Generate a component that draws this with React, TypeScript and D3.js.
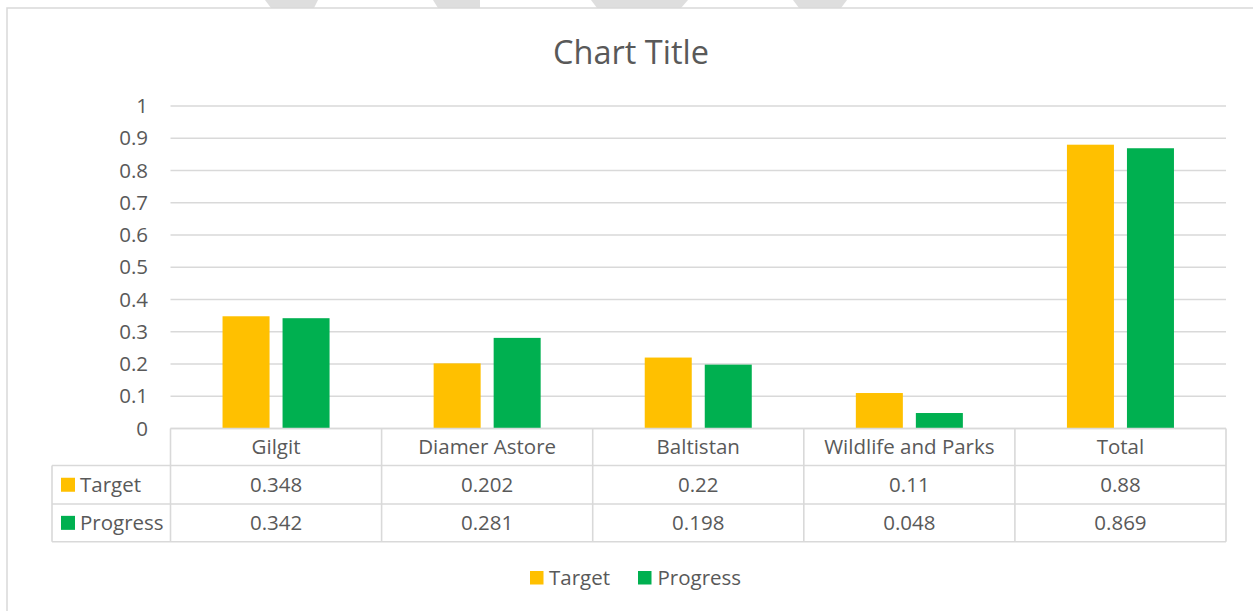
import * as d3 from "d3";

const categories = ["Gilgit", "Diamer Astore", "Baltistan", "Wildlife and Parks", "Total"];
const seriesNames = ["Target", "Progress"];
const targetValues = [0.348, 0.202, 0.22, 0.11, 0.88];
const progressValues = [0.342, 0.281, 0.198, 0.048, 0.869];
const targetLabels = ["0.348", "0.202", "0.22", "0.11", "0.88"];
const progressLabels = ["0.342", "0.281", "0.198", "0.048", "0.869"];
const yTicks = [0, 0.1, 0.2, 0.3, 0.4, 0.5, 0.6, 0.7, 0.8, 0.9, 1];
const yTickLabels = ["0", "0.1", "0.2", "0.3", "0.4", "0.5", "0.6", "0.7", "0.8", "0.9", "1"];

const colors = ["#FFC000", "#00B050"];
const textColor = "#595959";
const lineColor = "#d9d9d9";
const font = "'Open Sans', Calibri, sans-serif";
const fs = 20.5;

export default function App() {
  const width = 1253;
  const height = 611;

  const plot = { left: 170.5, right: 1226, top: 106, bottom: 428.5 };
  const table = { left: 52, row1: 465.5, row2: 504, row3: 541.7 };

  // y scale -> value to pixels
  const y = d3.scaleLinear().domain([0, 1]).range([plot.bottom, plot.top]);

  // category cells (full width, used for the table)
  const cells = d3.scaleBand().domain(categories).range([plot.left, plot.right]);

  // bar groups inside each category
  const x0 = d3
    .scaleBand()
    .domain(categories)
    .range([plot.left, plot.right])
    .paddingInner(0.493)
    .paddingOuter(0.2465);

  const x1 = d3
    .scaleBand()
    .domain(seriesNames)
    .range([0, x0.bandwidth()])
    .paddingInner(0.2167);

  const series = [targetValues, progressValues];
  const rowLabels = [targetLabels, progressLabels];
  const rowMid = [(table.row1 + table.row2) / 2, (table.row2 + table.row3) / 2];

  // watermark fragments peeking above the border
  const watermark = [
    [265, 318, 271, 314],
    [433, 480, 438, 480],
    [591, 688, 597, 681],
    [793, 847, 799, 841],
  ];

  return (
    <svg
      width={width}
      height={height}
      style={{ position: "absolute", left: 0, top: 0, background: "#fff" }}
    >
      {watermark.map(([a, b, c, d], i) => (
        <polygon key={i} points={`${a},0 ${b},0 ${d},8 ${c},8`} fill="#dedede" />
      ))}

      {/* chart border */}
      <rect x={7} y={8} width={1260} height={640} fill="#fff" stroke={lineColor} strokeWidth={1.5} />

      {/* title */}
      <text x={631} y={64} textAnchor="middle" fontSize={32.5} fill={textColor} fontFamily={font}>
        Chart Title
      </text>

      {/* gridlines + tick labels */}
      {yTicks.map((t, i) => (
        <g key={i}>
          <line x1={plot.left} x2={plot.right} y1={y(t)} y2={y(t)} stroke={lineColor} strokeWidth={1.3} />
          <text
            x={148}
            y={y(t)}
            dy="0.35em"
            textAnchor="end"
            fontSize={fs}
            fill={textColor}
            fontFamily={font}
          >
            {yTickLabels[i]}
          </text>
        </g>
      ))}

      {/* bars */}
      {categories.map((c, ci) => (
        <g key={c} transform={`translate(${x0(c)},0)`}>
          {seriesNames.map((s, si) => (
            <rect
              key={s}
              x={x1(s)}
              y={y(series[si][ci])}
              width={x1.bandwidth()}
              height={y(0) - y(series[si][ci])}
              fill={colors[si]}
            />
          ))}
        </g>
      ))}

      {/* data table lines */}
      <g stroke={lineColor} strokeWidth={1.6} fill="none">
        <line x1={plot.left} x2={plot.right} y1={plot.bottom} y2={plot.bottom} />
        {[table.row1, table.row2, table.row3].map((ry, i) => (
          <line key={i} x1={table.left} x2={plot.right} y1={ry} y2={ry} />
        ))}
        <line x1={table.left} x2={table.left} y1={table.row1} y2={table.row3} />
        {categories.map((c) => (
          <line key={c} x1={cells(c)} x2={cells(c)} y1={plot.bottom} y2={table.row3} />
        ))}
        <line x1={plot.right} x2={plot.right} y1={plot.bottom} y2={table.row3} />
      </g>

      {/* table header: categories */}
      {categories.map((c) => (
        <text
          key={c}
          x={cells(c)! + cells.bandwidth() / 2}
          y={(plot.bottom + table.row1) / 2}
          dy="0.35em"
          textAnchor="middle"
          fontSize={fs}
          fill={textColor}
          fontFamily={font}
        >
          {c}
        </text>
      ))}

      {/* table rows */}
      {seriesNames.map((s, si) => (
        <g key={s}>
          <rect x={61} y={rowMid[si] - 7} width={14} height={14} fill={colors[si]} />
          <text x={80} y={rowMid[si]} dy="0.35em" fontSize={fs} fill={textColor} fontFamily={font}>
            {s}
          </text>
          {categories.map((c, ci) => (
            <text
              key={c}
              x={cells(c)! + cells.bandwidth() / 2}
              y={rowMid[si]}
              dy="0.35em"
              textAnchor="middle"
              fontSize={fs}
              fill={textColor}
              fontFamily={font}
            >
              {rowLabels[si][ci]}
            </text>
          ))}
        </g>
      ))}

      {/* legend */}
      <g>
        <rect x={530} y={571} width={13.5} height={13.5} fill={colors[0]} />
        <text x={549} y={577.7} dy="0.35em" fontSize={fs} fill={textColor} fontFamily={font}>
          {seriesNames[0]}
        </text>
        <rect x={638} y={571} width={13.5} height={13.5} fill={colors[1]} />
        <text x={657.5} y={577.7} dy="0.35em" fontSize={fs} fill={textColor} fontFamily={font}>
          {seriesNames[1]}
        </text>
      </g>
    </svg>
  );
}
